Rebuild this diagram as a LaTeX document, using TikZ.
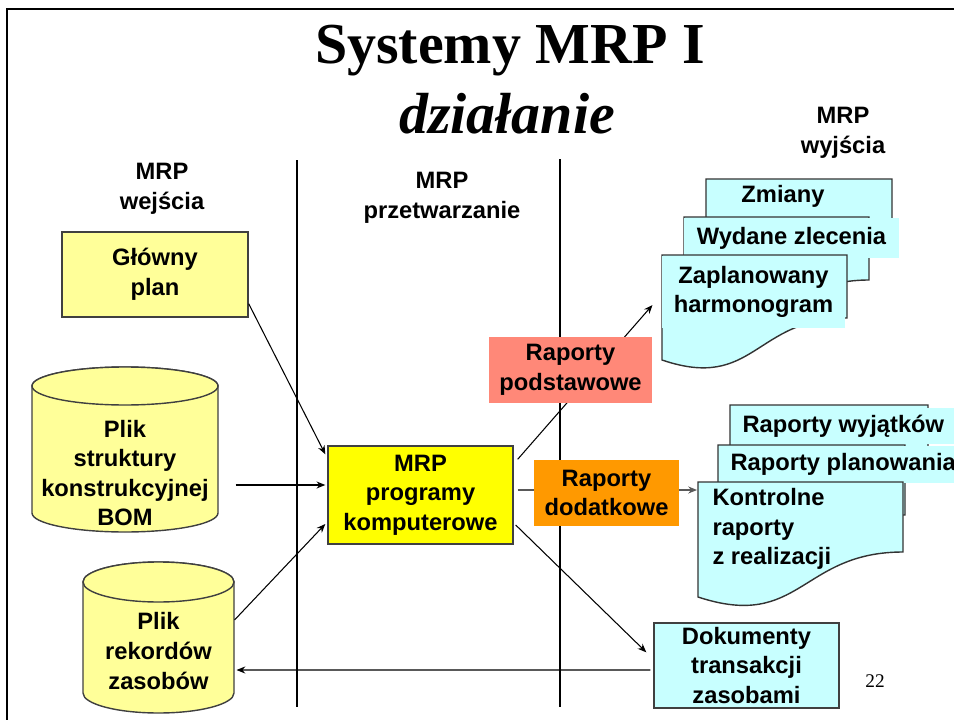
\documentclass[tikz,border=0pt]{standalone}
\usepackage{fontspec}
\setmainfont{Liberation Serif}
\setsansfont{Liberation Sans}
\usetikzlibrary{calc,arrows.meta}

\definecolor{lightyel}{HTML}{FFFF99}
\definecolor{brightyel}{HTML}{FFFF00}
\definecolor{paleblue}{HTML}{C8FFFF}
\definecolor{salmonbox}{HTML}{FF8878}
\definecolor{orangebox}{HTML}{FF9900}

% baza danych: srodek x, gorna os, dolna os, promien x, promien y
\newcommand{\dbcylinder}[5]{%
  \filldraw[cylpath] (#1-#4,#2) -- (#1-#4,#3)
    arc[start angle=180, end angle=0, x radius=#4, y radius=#5]
    -- (#1+#4,#2)
    arc[start angle=0, end angle=-180, x radius=#4, y radius=#5] -- cycle;
  \draw[cylpath] (#1,#2) ellipse[x radius=#4, y radius=#5];}

% dokument: lewo, gora, prawo, dol po prawej, dol po lewej
\newcommand{\docsheet}[5]{%
  \filldraw[docpath] (#1,#2) -- (#3,#2) -- (#3,#4)
    .. controls ({(#1+#3)/2},#4) and ({(#1+#3)/2},{#5+0.75*(#5-#4)}) .. (#1,#5) -- cycle;}

\begin{document}
\begin{tikzpicture}[x=0.02cm, y=-0.02cm, >={Stealth[length=5pt,width=4pt]}, line width=0.6pt,
    every node/.style={font=\sffamily\bfseries\fontsize{13.5}{16.8}\selectfont, align=center},
    inbox/.style={draw=black!75, fill=lightyel, line width=0.8pt, inner sep=0pt,
      minimum width=3.72cm, minimum height=1.70cm},
    repbox/.style={inner sep=0pt, minimum height=1.34cm},
    cylpath/.style={draw=black!75, fill=lightyel, line width=0.8pt},
    docpath/.style={draw=black!80, fill=paleblue, line width=0.8pt},
    doclabel/.style={fill=paleblue, inner sep=0pt},
    flow/.style={->, line width=0.6pt},
    divider/.style={line width=0.8pt}]

  \useasboundingbox (0,0) rectangle (954,720);

  % ==================== 1. ramka i tytul ====================
  \draw[line width=1.4pt] (7,720) -- (7,9) -- (954,9);
  \node[font=\rmfamily\bfseries\fontsize{33}{40}\selectfont, anchor=base] (title) at (510,63) {Systemy MRP I};
  \node[font=\rmfamily\bfseries\itshape\fontsize{33}{40}\selectfont, anchor=base] (subtitle) at (507,133) {działanie};

  % ==================== 2. kolumny ====================
  \draw[divider] (297,160) -- (297,707);
  \draw[divider] (560,159) -- (560,707);
  \node (hin) at (162,189) {MRP\\wejścia};
  \node (hproc) at (442,198) {MRP\\przetwarzanie};
  \node (hout) at (843,133) {MRP\\wyjścia};

  % ==================== 3. wejscia ====================
  \node[inbox] (plan) at (155,274.5) {Główny\\plan};

  \dbcylinder{125}{386}{513}{93}{19}
  \node[minimum width=3.72cm, inner sep=0pt] (bom) at (125,473) {Plik\\struktury\\konstrukcyjnej\\BOM};

  \dbcylinder{158.5}{582}{693}{75.5}{20}
  \node[minimum width=3.02cm, inner sep=0pt] (rek) at (158.5,651) {Plik\\rekordów\\zasobów};

  % ==================== 4. przetwarzanie ====================
  \node[inbox, fill=brightyel, minimum width=3.70cm, minimum height=1.96cm] (mrp) at (420.5,495) {MRP\\programy\\komputerowe};

  % ==================== 5. wyjscia ====================
  % raporty podstawowe
  \docsheet{706}{179}{892}{242}{284}
  \node (zmiany) at (783,196) {Zmiany};
  \docsheet{684}{217}{869}{280}{322}
  \node[doclabel, minimum width=4.30cm, minimum height=0.80cm] (wydane) at (791.5,238) {Wydane zlecenia};
  \docsheet{662}{255}{847}{318}{360}
  \node[doclabel, minimum width=3.66cm, minimum height=1.44cm] (harm) at (753.5,292) {Zaplanowany\\harmonogram};

  % raporty dodatkowe
  \docsheet{730}{405}{928}{475}{520}
  \node[doclabel, anchor=west, inner xsep=0.24cm, minimum height=0.72cm] (wyjatki) at (730,426) {Raporty wyjątków};
  \docsheet{718}{445}{905}{515}{560}
  \node[doclabel, anchor=west, inner xsep=0.24cm, minimum height=0.74cm] (planow) at (718,464) {Raporty planowania};
  \docsheet{698}{482}{903}{552}{597}
  \node[anchor=west, align=left, inner xsep=0.28cm] (kontr) at (698,529) {Kontrolne\\raporty\\z realizacji};

  \node[inbox, fill=paleblue, minimum width=3.70cm, minimum height=1.70cm] (dok) at (746.5,665.5) {Dokumenty\\transakcji\\zasobami};
  \node[font=\rmfamily\fontsize{11}{13}\selectfont] (pagenum) at (875,681) {22};

  % ==================== 6. przeplyw ====================
  \draw[flow] ($(plan.south east)+(0,-14)$) -- ($(mrp.north west)+(-2,9)$);
  \draw[flow] ($(bom.east)+(17,12)$) -- ($(mrp.west)+(-2,-10)$);
  \draw[flow] ($(rek.east)+(0,-31)$) -- ($(mrp.west)+(-2,29)$);
  \draw[flow] ($(dok.west)+(-3,4.5)$) -- ($(rek.east)+(2,19)$);
  \draw[flow] ($(mrp.east)+(2,30)$) -- ($(dok.north west)+(-7,30)$);
  \draw[flow] ($(mrp.north east)+(4,14)$) -- ($(harm.west)+(-9,13)$);
  \draw[flow, draw=black!65] ($(mrp.east)+(4,-5)$) -- ($(kontr.west)+(-1,-39)$);

  % etykiety raportow nad liniami
  \node[repbox, fill=salmonbox, minimum width=3.26cm] (podst) at (570.5,370) {Raporty\\podstawowe};
  \node[repbox, fill=orangebox, minimum width=2.90cm] (dodat) at (606.5,493) {Raporty\\dodatkowe};

\end{tikzpicture}
\end{document}
